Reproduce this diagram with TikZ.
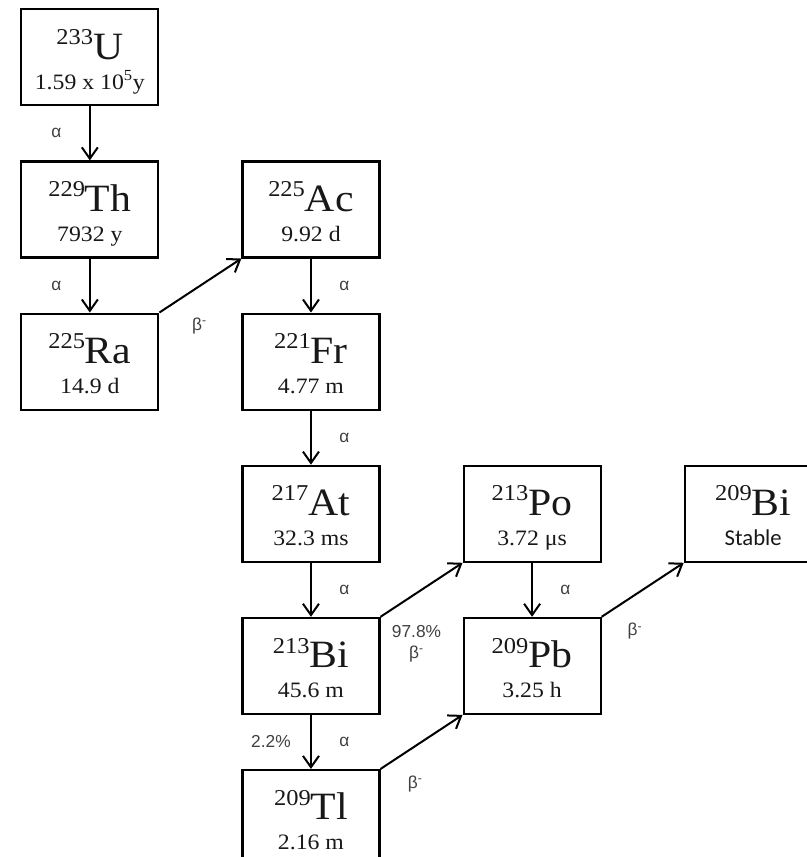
\documentclass[tikz,border=0pt]{standalone}
\usepackage{fontspec}
\setmainfont{Liberation Serif}[FakeStretch=1.08]
\newfontfamily\tagfont{Liberation Sans}
\newfontfamily\stablefont{Carlito}
\usetikzlibrary{arrows.meta,matrix}
\definecolor{ink}{RGB}{24,24,24}
\definecolor{tagray}{RGB}{64,64,64}
% isotope: mass number, symbol, half-life
\newcommand\elem[3]{\begin{tabular}{@{}c@{}}\rule{0pt}{32pt}{\fontsize{29}{29}\selectfont\raisebox{11pt}{\fontsize{17}{17}\selectfont#1}#2}\\#3\end{tabular}}
\tikzset{
  iso/.style={draw=black,line width=1.6pt,minimum width=102.75pt,minimum height=72pt,text=ink,font=\fontsize{16.5}{22.5}\selectfont,inner sep=0pt},
  decay/.style={-{Straight Barb[length=8.5pt,width=12pt]},line width=1.5pt,draw=black},
  tag/.style={font=\tagfont\fontsize{13}{15.5}\selectfont,text=tagray,align=center,inner sep=0pt}
}
\begin{document}
\begin{tikzpicture}[x=0.75pt,y=-0.75pt]
\clip (0,0) rectangle (807,857);
\matrix[matrix of nodes,anchor=north west,inner sep=0pt,column sep=61.5pt,row sep=40.5pt,nodes={iso},ampersand replacement=\&] (m) at (20,8) {
\elem{233}{U}{1.59 x 10\textsuperscript{5}y} \& \& \& \\
\elem{229}{Th}{7932 y} \& \elem{225}{Ac}{9.92 d} \& \& \\
\elem{225}{Ra}{14.9 d} \& \elem{221}{Fr}{4.77 m} \& \& \\
\& \elem{217}{At}{32.3 ms} \& \elem{213}{Po}{3.72 μs} \& \elem{209}{Bi}{\stablefont\fontsize{17}{18}\selectfont Stable} \\
\& \elem{213}{Bi}{45.6 m} \& \elem{209}{Pb}{3.25 h} \& \\
\& \elem{209}{Tl}{2.16 m} \& \& \\
};
% alpha decays
\draw[decay] (m-1-1) -- node[tag,xshift=-25pt]{α} (m-2-1);
\draw[decay] (m-2-1) -- node[tag,xshift=-25pt]{α} (m-3-1);
\draw[decay] (m-2-2) -- node[tag,xshift=25pt]{α} (m-3-2);
\draw[decay] (m-3-2) -- node[tag,xshift=25pt]{α} (m-4-2);
\draw[decay] (m-4-2) -- node[tag,xshift=25pt]{α} (m-5-2);
\draw[decay] (m-4-3) -- node[tag,xshift=25pt]{α} (m-5-3);
\draw[decay] (m-5-2) -- node[tag,xshift=25pt]{α} node[tag,xshift=-30pt]{2.2\%} (m-6-2);
% beta decays
\draw[decay] (m-3-1.north east) -- node[tag,at start,xshift=30pt,yshift=-10pt]{β\textsuperscript{-}} (m-2-2.south west);
\draw[decay] (m-5-2.north east) -- node[tag,at start,xshift=27pt,yshift=-20pt]{97.8\%\\β\textsuperscript{-}} (m-4-3.south west);
\draw[decay] (m-5-3.north east) -- node[tag,at start,xshift=25pt,yshift=-11pt]{β\textsuperscript{-}} (m-4-4.south west);
\draw[decay] (m-6-2.north east) -- node[tag,at start,xshift=26pt,yshift=-11pt]{β\textsuperscript{-}} (m-5-3.south west);
\end{tikzpicture}
\end{document}
